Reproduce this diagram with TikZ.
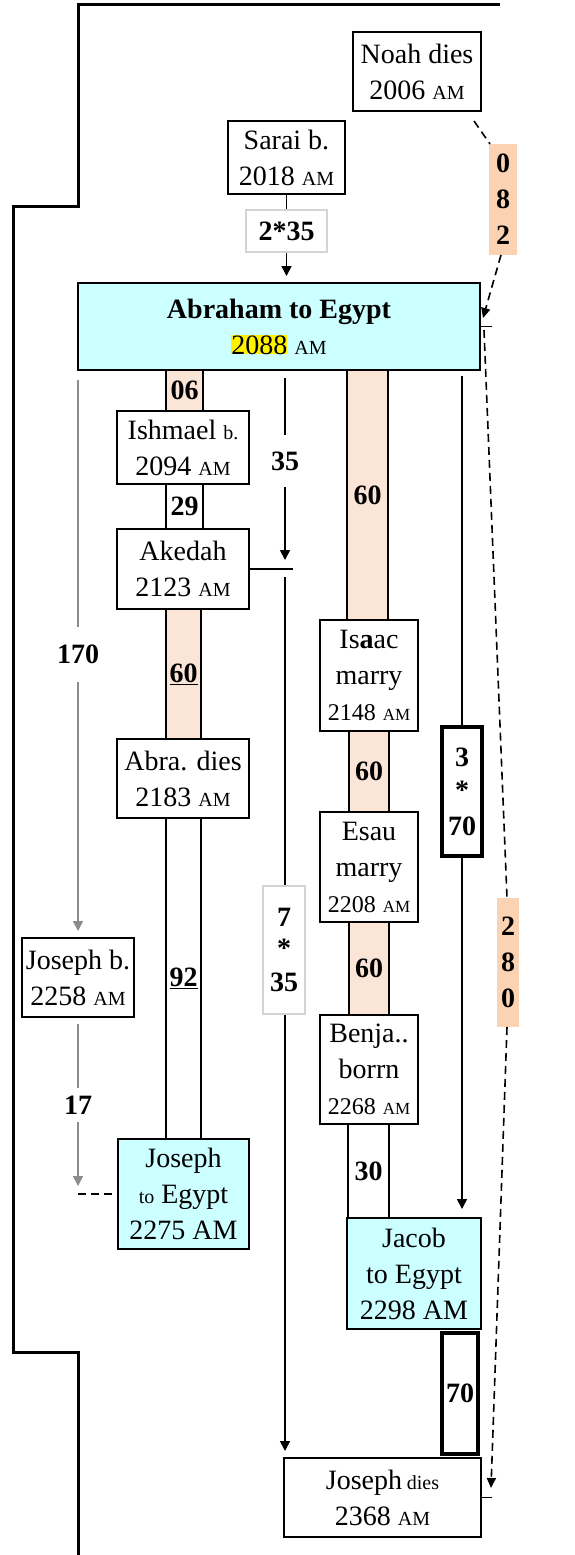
\documentclass[tikz,border=0pt]{standalone}
\usepackage{fontspec}
\setmainfont{Liberation Serif}
\usetikzlibrary{arrows.meta}
\definecolor{cyanbox}{HTML}{CCFFFF}
\definecolor{peach}{HTML}{FBE5D6}
\definecolor{peachdark}{HTML}{FBD3B3}
\definecolor{graybox}{HTML}{D4D4D4}
\definecolor{grayarrow}{HTML}{8C8C8C}
\newcommand{\sml}[1]{{\fontsize{20}{24}\selectfont #1}}
\newcommand{\ssml}[1]{{\fontsize{17}{20}\selectfont #1}}
\newcommand{\mdl}[1]{{\fontsize{24}{30}\selectfont #1}}
\begin{document}
\begin{tikzpicture}[x=1pt,y=-1pt,
  evt/.style={draw=black, line width=2pt, fill=white, inner sep=0pt, align=center, font=\fontsize{28}{36}\selectfont},
  cyanevt/.style={evt, fill=cyanbox},
  bar/.style={draw=black, line width=2pt, fill=white, inner sep=0pt, align=center, font=\fontsize{28}{34}\selectfont\bfseries},
  peachbar/.style={bar, fill=peach},
  thickbar/.style={bar, line width=4.5pt, font=\fontsize{28}{36}\selectfont\bfseries},
  graylbl/.style={draw=graybox, line width=2.5pt, fill=white, inner sep=0pt, align=center, font=\fontsize{28}{34}\selectfont\bfseries},
  peachlbl/.style={fill=peachdark, inner sep=0pt, align=center, font=\fontsize{28}{36}\selectfont\bfseries},
  lbl/.style={inner sep=0pt, align=center, font=\fontsize{28}{34}\selectfont\bfseries},
  conn/.style={line width=1.6pt, draw=black},
  arr/.style={conn, -{Triangle[length=10pt,width=10pt]}},
  grayconn/.style={line width=1.6pt, draw=grayarrow},
  grayarr/.style={grayconn, -{Triangle[length=10pt,width=10pt]}},
  dashconn/.style={line width=1.6pt, draw=black, dash pattern=on 8pt off 5pt},
  dasharr/.style={dashconn, -{Triangle[length=10pt,width=9pt]}}
]
\useasboundingbox (0,0) rectangle (575,1555);
\fill[white] (0,0) rectangle (575,1555);

% outer border
\draw[line width=3pt] (500,5) -- (78,5) -- (78,206) -- (13,206) -- (13,1352) -- (78,1352) -- (78,1555);

% top events
\node[evt, minimum width=128, minimum height=79] (noah) at (417,71.5) {Noah dies\\2006 \sml{AM}};
\node[evt, minimum width=117, minimum height=73] (sarai) at (286.5,157.5) {Sarai b.\\2018 \sml{AM}};
\node[graylbl, minimum width=81, minimum height=42] (s235) at (286.5,231) {2*35};
\node[cyanevt, minimum width=402, minimum height=87] (abr) at (279,326.5)
  {\textbf{Abraham to Egypt}\\{\setlength{\fboxsep}{0pt}\colorbox{yellow}{2088}} \sml{AM}};
\node[peachlbl, minimum width=28, minimum height=111] (b082) at (503,199.5) {0\\8\\2};

% column A
\node[peachbar, minimum width=37, minimum height=41] (b06) at (184.5,390.5) {06};
\node[evt, minimum width=132, minimum height=73] (ish) at (183,447.5) {Ishmael \sml{b.}\\2094 \sml{AM}};
\node[bar, minimum width=37, minimum height=45] (b29) at (184.5,506.5) {29};
\node[evt, minimum width=132, minimum height=80] (aked) at (183,569) {Akedah\\2123 \sml{AM}};
\node[peachbar, minimum width=35, minimum height=130] (b60a) at (183.5,674) {\underline{60}};
\node[evt, minimum width=132, minimum height=79] (abrd) at (183,778.5) {Abra. dies\\2183 \sml{AM}};
\node[bar, minimum width=35, minimum height=321] (b92) at (183.5,978.5) {\underline{92}};
\node[cyanevt, minimum width=131, minimum height=110] (jte) at (183.5,1194) {Joseph\\\sml{to} Egypt\\2275 AM};

% far left
\node[evt, minimum width=112, minimum height=79] (josb) at (78,977.5) {Joseph b.\\2258 \sml{AM}};
\node[lbl, minimum width=50, minimum height=55] (lbl170) at (78,654.5) {170};
\node[lbl, minimum width=40, minimum height=34] (lbl17) at (78,1105) {17};
\coordinate (c170a) at (78,380);
\coordinate (c17a) at (78,1024);
\coordinate (c17b) at (78,1186);
\coordinate (c17c) at (78,1194);
\draw[grayconn] (c170a) -- (lbl170.north);
\draw[grayarr, shorten >=6pt] (lbl170.south) -- (josb.north);
\draw[grayconn] (c17a) -- (lbl17.north);
\draw[grayarr] (lbl17.south) -- (c17b);
\draw[dashconn] (c17c) -- (jte.west);

% column B
\node[lbl, minimum width=40, minimum height=52] (lbl35) at (285,461) {35};
\node[graylbl, minimum width=42, minimum height=128] (s735) at (284,950) {7\\[-3pt]*\\35};
\coordinate (c35a) at (285,378);
\coordinate (c35b) at (285,560);
\coordinate (akedt) at (293,569);
\coordinate (c735a) at (285,577);
\coordinate (c735b) at (285,1451);
\draw[conn] (c35a) -- (lbl35.north);
\draw[arr] (lbl35.south) -- (c35b);
\draw[conn] (aked.east) -- (akedt);
\draw[conn] (c735a) -- (c735a |- s735.north);
\draw[arr] (c735a |- s735.south) -- (c735b);

% column C
\node[peachbar, minimum width=41, minimum height=250] (b60c) at (367.5,495) {60};
\node[evt, minimum width=98, minimum height=111] (isaac) at (369,675.5) {Is\textbf{a}ac\\marry\\\mdl{2148} \ssml{AM}};
\node[peachbar, minimum width=40, minimum height=81] (b60d) at (369,771.5) {60};
\node[evt, minimum width=98, minimum height=110] (esau) at (369,867) {Esau\\marry\\\mdl{2208} \ssml{AM}};
\node[peachbar, minimum width=40, minimum height=93] (b60e) at (369,968.5) {60};
\node[evt, minimum width=98, minimum height=109] (benja) at (369,1069.5) {Benja..\\borrn\\\mdl{2268} \ssml{AM}};
\node[bar, minimum width=41, minimum height=94] (b30) at (368.5,1171) {30};
\node[cyanevt, minimum width=134, minimum height=111] (jacob) at (414,1273.5) {Jacob\\to Egypt\\2298 AM};
\node[thickbar, minimum width=36, minimum height=121] (b70) at (460,1393.5) {70};
\node[evt, minimum width=197, minimum height=79] (josd) at (382.5,1497.5) {Joseph\,\sml{dies}\\2368 \sml{AM}};

% column D
\node[thickbar, minimum width=40, minimum height=129] (s370) at (462,791.5) {3\\[-3pt]*\\70};
\coordinate (c370a) at (462,376);
\coordinate (c370b) at (462,1209);
\draw[conn] (c370a) -- (s370.north);
\draw[arr] (s370.south) -- (c370b);

% top connectors
\coordinate (c235b) at (286.5,276);
\draw[conn] (sarai.south) -- (s235.north);
\draw[arr] (s235.south) -- (c235b);

% dashed right
\node[peachlbl, minimum width=22, minimum height=129] (b280) at (508,962.5) {2\\8\\0};
\coordinate (nd1) at (474,121);
\coordinate (nd2) at (490,144);
\coordinate (nd3) at (501,255);
\coordinate (nd4) at (483,318);
\coordinate (abrtick) at (492,326.5);
\coordinate (nd5) at (484,330);
\coordinate (nd6) at (507,898);
\coordinate (nd7) at (507,1027);
\coordinate (nd8) at (491,1488);
\coordinate (josdtick) at (492,1497.5);
\draw[dashconn] (nd1) -- (nd2);
\draw[dasharr] (nd3) -- (nd4);
\draw[conn] (abr.east) -- (abrtick);
\draw[dashconn] (nd5) -- (nd6);
\draw[dasharr] (nd7) -- (nd8);
\draw[conn] (josd.east) -- (josdtick);
\end{tikzpicture}
\end{document}
